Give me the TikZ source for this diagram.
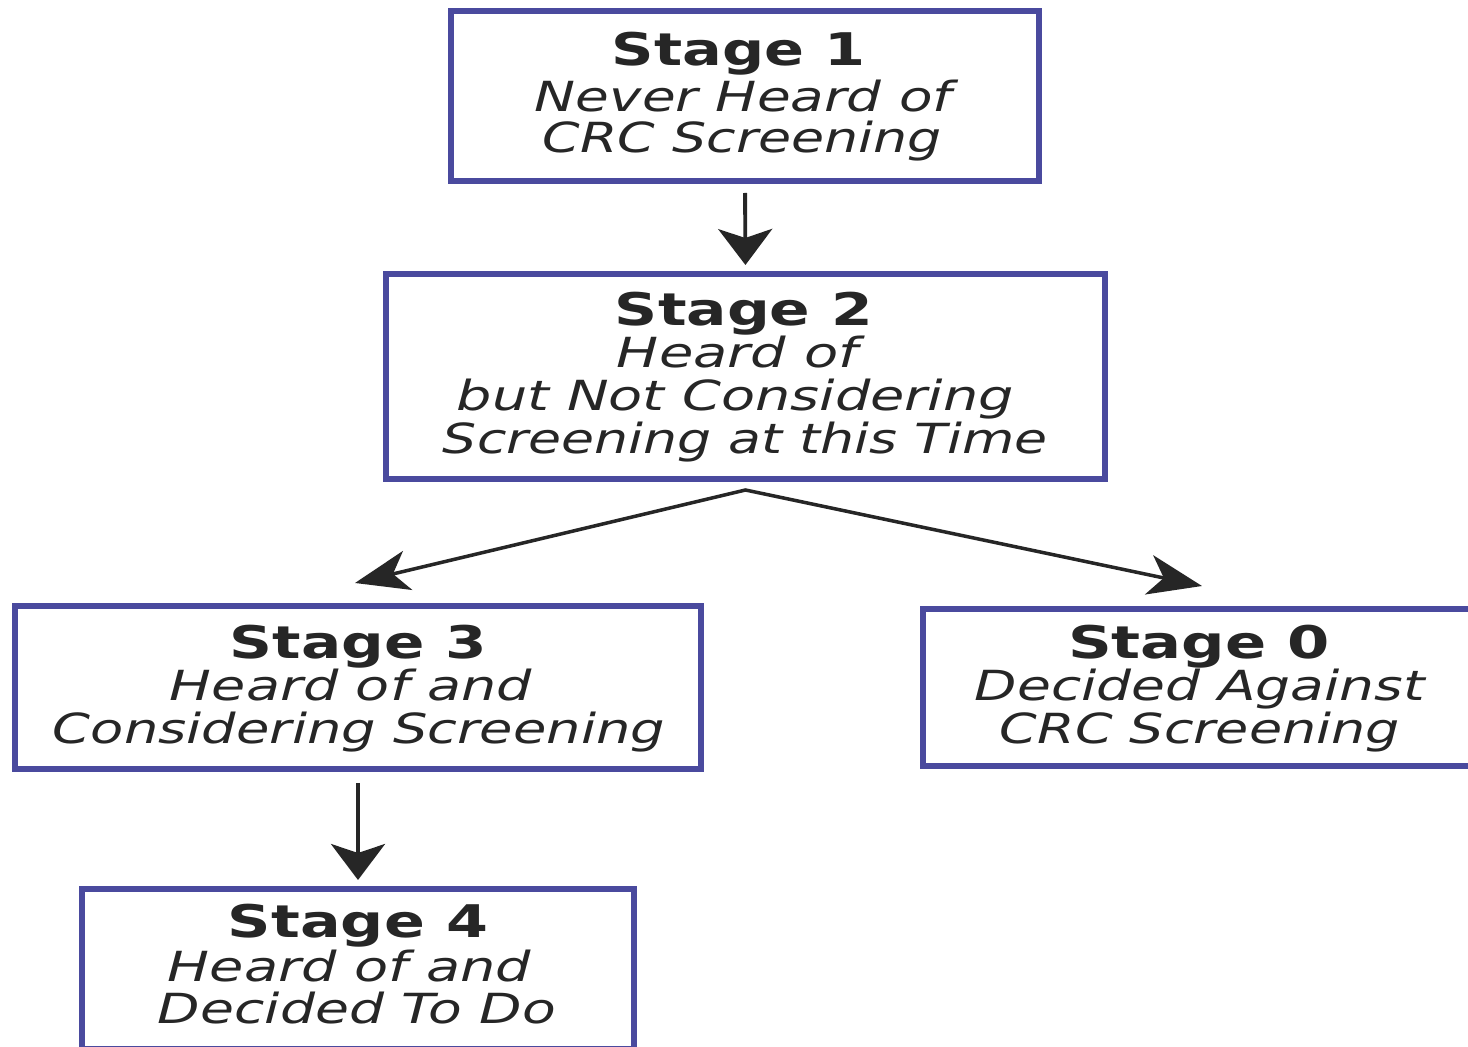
\documentclass[tikz,border=0pt]{standalone}
\usepackage{fontspec}
\setmainfont{DejaVu Sans}
\usetikzlibrary{arrows.meta,calc}
\definecolor{boxblue}{RGB}{74,74,158}
\definecolor{ink}{RGB}{38,38,38}
\newcommand{\lnfit}[2]{\resizebox{#1}{\height}{#2}}
\begin{document}
\begin{tikzpicture}[
  stagebox/.style={draw=boxblue, line width=1.6pt, rectangle, inner sep=0pt, outer sep=0pt, fill=white},
  ttl/.style={anchor=base, inner sep=0pt, text=ink, font=\fontsize{12.8}{14}\selectfont\bfseries},
  sub/.style={anchor=base, inner sep=0pt, text=ink, font=\fontsize{11.8}{13}\selectfont\itshape},
  arrv/.style={draw=ink, line width=1.1pt, -{Stealth[length=3.6mm,width=5.4mm,inset=0.9mm]}},
  arrd/.style={draw=ink, line width=1.0pt, {Stealth[length=5.4mm,width=4.0mm,inset=1.5mm]}-{Stealth[length=5.4mm,width=4.0mm,inset=1.5mm]}},
]
\useasboundingbox (0,0) rectangle (14.68,10.47);
\clip (0,0) rectangle (14.68,10.47);
\fill[white] (0,0) rectangle (14.68,10.47);

% boxes
\node[stagebox, minimum width=5.88cm, minimum height=1.70cm] (b1) at (7.45,9.51) {};
\node[stagebox, minimum width=7.19cm, minimum height=2.05cm] (b2) at (7.455,6.705) {};
\node[stagebox, minimum width=6.86cm, minimum height=1.63cm] (b3) at (3.58,3.595) {};
\node[stagebox, minimum width=5.54cm, minimum height=1.57cm] (b0) at (12.00,3.595) {};
\node[stagebox, minimum width=5.52cm, minimum height=1.60cm] (b4) at (3.58,0.78) {};

% box 1 text
\node[ttl] (t1a) at (7.39,9.81) {\lnfit{2.54cm}{Stage 1}};
\node[sub] (t1b) at (7.435,9.35) {\lnfit{4.17cm}{Never Heard of}};
\node[sub] (t1c) at (7.425,8.94) {\lnfit{3.99cm}{CRC Screening}};

% box 2 text
\node[ttl] (t2a) at (7.44,7.21) {\lnfit{2.58cm}{Stage 2}};
\node[sub] (t2b) at (7.375,6.79) {\lnfit{2.41cm}{Heard of}};
\node[sub] (t2c) at (7.355,6.36) {\lnfit{5.57cm}{but Not Considering}};
\node[sub] (t2d) at (7.455,5.93) {\lnfit{6.05cm}{Screening at this Time}};

% box 3 text
\node[ttl] (t3a) at (3.585,3.88) {\lnfit{2.57cm}{Stage 3}};
\node[sub] (t3b) at (3.51,3.46) {\lnfit{3.62cm}{Heard of and}};
\node[sub] (t3c) at (3.59,3.03) {\lnfit{6.12cm}{Considering Screening}};

% box 0 text
\node[ttl] (t0a) at (11.99,3.88) {\lnfit{2.62cm}{Stage 0}};
\node[sub] (t0b) at (12.00,3.46) {\lnfit{4.50cm}{Decided Against}};
\node[sub] (t0c) at (12.00,3.03) {\lnfit{4.00cm}{CRC Screening}};

% box 4 text
\node[ttl] (t4a) at (3.58,1.09) {\lnfit{2.60cm}{Stage 4}};
\node[sub] (t4b) at (3.495,0.65) {\lnfit{3.63cm}{Heard of and}};
\node[sub] (t4c) at (3.57,0.23) {\lnfit{3.98cm}{Decided To Do}};

% arrows
\draw[arrv, shorten <=0.12cm, shorten >=0.09cm] (b1.south) -- (b2.north);
\draw[arrv, shorten <=0.14cm, shorten >=0.09cm] (b3.south) -- (b4.north);
\coordinate (fork) at ($(b2.south)+(0,-0.11)$);
\coordinate (tip3) at ($(b3.north)+(-0.03,0.23)$);
\coordinate (tip0) at ($(b0.north)+(0.02,0.23)$);
\draw[arrd] (tip3) -- (fork) -- (tip0);
\end{tikzpicture}
\end{document}
